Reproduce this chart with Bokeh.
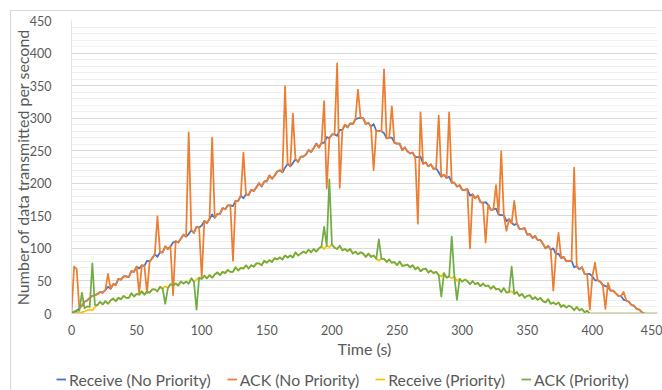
from bokeh.plotting import figure
from bokeh.models import Range1d, SingleIntervalTicker, Legend, LegendItem
from bokeh.layouts import column
from bokeh.embed import file_html
from bokeh.resources import INLINE

# ---- data ----
time_np = list(range(0, 441, 2))   # seconds, No Priority series
time_p = list(range(0, 451, 2))    # seconds, Priority series

receive_np = [
    1, 2, 4, 8, 12, 18, 20, 24, 27, 28,
    30, 33, 32, 36, 41, 38, 45, 44, 53, 52,
    57, 57, 56, 65, 64, 72, 69, 74, 73, 81,
    80, 85, 91, 87, 94, 94, 103, 99, 103, 109,
    111, 109, 115, 121, 118, 122, 128, 124, 133, 132,
    135, 142, 139, 145, 152, 147, 153, 153, 162, 160,
    166, 166, 165, 173, 173, 181, 177, 183, 182, 190,
    188, 194, 200, 195, 203, 203, 212, 207, 212, 218,
    220, 217, 224, 230, 226, 231, 237, 233, 241, 241,
    244, 251, 248, 254, 261, 255, 262, 262, 271, 269,
    275, 275, 273, 282, 282, 290, 286, 292, 291, 298,
    300, 300, 300, 291, 293, 287, 291, 281, 280, 280,
    277, 269, 270, 270, 262, 261, 261, 251, 255, 249,
    246, 247, 240, 240, 241, 230, 232, 226, 229, 222,
    223, 217, 210, 213, 208, 210, 201, 201, 195, 197,
    190, 190, 191, 181, 183, 177, 181, 171, 170, 171,
    167, 159, 160, 161, 152, 151, 151, 142, 145, 139,
    136, 138, 130, 130, 131, 121, 122, 116, 119, 113,
    113, 107, 100, 104, 98, 100, 91, 92, 85, 87,
    80, 81, 81, 71, 73, 68, 71, 61, 60, 61,
    57, 51, 51, 49, 44, 42, 41, 35, 35, 31,
    27, 27, 21, 20, 18, 13, 12, 7, 6, 2,
    0,
]

ack_np = [
    1, 72, 68, 8, 12, 18, 20, 24, 27, 28,
    30, 33, 32, 36, 61, 38, 45, 44, 53, 52,
    57, 57, 56, 65, 64, 72, 31, 74, 73, 31,
    80, 85, 91, 149, 94, 94, 103, 99, 103, 28,
    111, 109, 115, 121, 118, 278, 128, 124, 133, 132,
    55, 142, 139, 145, 270, 147, 153, 153, 162, 160,
    166, 166, 81, 173, 173, 181, 247, 183, 182, 190,
    188, 194, 200, 195, 203, 203, 212, 207, 212, 218,
    220, 217, 349, 230, 226, 307, 237, 233, 241, 241,
    244, 251, 248, 254, 261, 255, 262, 326, 192, 269,
    275, 275, 384, 193, 282, 290, 286, 292, 291, 298,
    344, 300, 300, 291, 293, 287, 220, 281, 280, 280,
    375, 269, 270, 318, 262, 261, 261, 251, 255, 249,
    246, 247, 240, 138, 309, 230, 232, 226, 229, 222,
    223, 304, 210, 213, 208, 309, 201, 201, 195, 197,
    190, 190, 191, 100, 183, 177, 181, 171, 170, 109,
    167, 159, 160, 197, 152, 249, 151, 127, 145, 139,
    173, 138, 130, 130, 131, 121, 122, 116, 119, 113,
    113, 107, 100, 104, 98, 35, 91, 124, 85, 87,
    80, 81, 81, 224, 73, 68, 71, 61, 60, 6,
    57, 78, 51, 49, 44, 7, 47, 35, 35, 31,
    27, 27, 33, 20, 18, 13, 12, 7, 6, 2,
    0,
]

receive_p = [
    0, 0, 1, 1, 2, 3, 5, 6, 5, 10,
    13, 18, 14, 19, 15, 20, 23, 19, 24, 22,
    27, 24, 24, 31, 26, 30, 29, 34, 29, 34,
    32, 37, 37, 34, 41, 38, 42, 39, 45, 43,
    46, 43, 49, 46, 49, 46, 54, 49, 52, 55,
    53, 58, 54, 59, 55, 60, 63, 59, 64, 62,
    67, 64, 64, 71, 66, 70, 69, 74, 69, 74,
    72, 77, 77, 74, 81, 78, 82, 79, 85, 83,
    86, 83, 89, 86, 89, 86, 94, 89, 92, 95,
    93, 98, 94, 99, 95, 100, 103, 99, 104, 102,
    106, 101, 99, 104, 97, 99, 96, 99, 92, 95,
    91, 94, 92, 87, 92, 87, 89, 84, 81, 84,
    84, 79, 83, 78, 79, 74, 80, 73, 74, 75,
    71, 74, 68, 71, 65, 68, 69, 63, 66, 62,
    64, 59, 57, 62, 55, 57, 54, 57, 50, 53,
    49, 52, 50, 45, 50, 45, 47, 42, 46, 42,
    43, 38, 42, 37, 38, 33, 39, 32, 33, 34,
    30, 33, 27, 30, 24, 27, 28, 22, 25, 21,
    24, 19, 17, 22, 15, 17, 14, 17, 10, 13,
    9, 12, 10, 5, 10, 5, 7, 2, 4, 0,
    0, 0, 0, 0, 0, 0, 0, 0, 0, 0,
    0, 0, 0, 0, 0, 0, 0, 0, 0, 0,
    0, 0, 0, 0, 0, 0,
]

ack_p = [
    1, 3, 5, 4, 32, 8, 11, 10, 77, 13,
    13, 18, 14, 19, 15, 20, 23, 19, 24, 22,
    27, 24, 24, 31, 26, 30, 29, 34, 29, 34,
    32, 37, 37, 34, 41, 38, 15, 39, 45, 43,
    46, 43, 49, 46, 49, 46, 54, 49, 6, 55,
    53, 58, 54, 59, 55, 60, 63, 59, 64, 62,
    67, 64, 64, 71, 66, 70, 69, 74, 69, 74,
    72, 77, 77, 74, 81, 78, 82, 79, 85, 83,
    86, 83, 89, 86, 89, 86, 94, 89, 92, 95,
    93, 98, 94, 99, 95, 100, 103, 133, 104, 206,
    106, 101, 99, 104, 97, 99, 96, 99, 92, 95,
    91, 94, 92, 87, 92, 87, 89, 84, 114, 84,
    84, 79, 83, 78, 79, 74, 80, 73, 74, 75,
    71, 74, 68, 71, 65, 68, 69, 63, 66, 62,
    64, 59, 26, 62, 55, 57, 118, 57, 21, 53,
    49, 52, 50, 45, 50, 45, 47, 42, 46, 42,
    43, 38, 42, 37, 38, 33, 39, 32, 33, 72,
    30, 33, 27, 30, 24, 27, 28, 22, 25, 21,
    24, 19, 17, 22, 15, 17, 14, 17, 10, 13,
    9, 12, 10, 5, 10, 5, 7, 2, 4, 0,
    0, 0, 0, 0, 0, 0, 0, 0, 0, 0,
    0, 0, 0, 0, 0, 0, 0, 0, 0, 0,
    0, 0, 0, 0, 0, 0,
]

series_names = ["Receive (No Priority)", "ACK (No Priority)",
                "Receive (Priority)", "ACK (Priority)"]
series_colors = ["#4472C4", "#ED7D31", "#FFC000", "#70AD47"]

x_title = "Time (s)"
y_title = "Number of data transmitted per second"

FONT = "Lato"
GREY = "#595959"
EDGE = "#d9d9d9"
VLINE0 = f"linear-gradient({EDGE},{EDGE}) 10px 0px / 1px 100% no-repeat"
VLINE10 = f"linear-gradient({EDGE},{EDGE}) 10px 10px / 1px 100% no-repeat"
HLINE = f"linear-gradient({EDGE},{EDGE}) 10px 10px / 100% 1px no-repeat"

xs = [time_np, time_np, time_p, time_p]
ys = [receive_np, ack_np, receive_p, ack_p]

# ---- main chart ----
p = figure(width=662, height=362, output_backend="svg", toolbar_location=None,
           x_range=Range1d(0, 450), y_range=Range1d(0, 450),
           min_border_left=71, min_border_right=5, min_border_top=20,
           min_border_bottom=49,
           styles={"background": f"{HLINE}, {VLINE10}, white"})
p.background_fill_color = "white"
p.border_fill_alpha = 0
p.outline_line_color = None

for x, y, c in zip(xs, ys, series_colors):
    p.line(x, y, line_color=c, line_width=1.75, line_join="round")

p.xaxis.ticker = SingleIntervalTicker(interval=50)
p.yaxis.ticker = SingleIntervalTicker(interval=50, num_minor_ticks=5)
p.xgrid.grid_line_color = None
p.ygrid.grid_line_color = "#d9d9d9"
p.ygrid.minor_grid_line_color = "#efefef"

for ax in (p.xaxis[0], p.yaxis[0]):
    ax.major_tick_line_color = None
    ax.minor_tick_line_color = None
    ax.major_label_text_font = FONT
    ax.major_label_text_font_size = "12.5px"
    ax.major_label_text_color = GREY
    ax.axis_label_text_font = FONT
    ax.axis_label_text_font_size = "16px"
    ax.axis_label_text_font_style = "normal"
    ax.axis_label_text_color = GREY

p.xaxis.axis_line_color = "#d0d0d0"
p.yaxis.axis_line_color = "#e2e2e2"
p.xaxis.axis_label = x_title
p.yaxis.axis_label = y_title
p.xaxis.major_label_standoff = 5
p.xaxis.axis_label_standoff = 1
p.yaxis.major_label_standoff = 14
p.yaxis.axis_label_standoff = -5

# ---- legend strip (below the chart) ----
# the strip's y range holds no data, so its lines only feed the legend glyphs
lg = figure(width=662, height=28, output_backend="svg", toolbar_location=None,
            x_range=Range1d(0, 450), y_range=Range1d(-20, -10),
            x_axis_location=None, y_axis_location=None,
            min_border_left=0, min_border_right=0, min_border_top=0,
            min_border_bottom=0, styles={"background": f"{VLINE0}, white"})
lg.grid.visible = False
lg.outline_line_color = None
lg.background_fill_alpha = 0
lg.border_fill_alpha = 0

legend_x = 56
if "frame_align" in lg.properties():
    lg.frame_align = False
    p.frame_align = False
else:
    legend_x = 56 - 71

proxies = [lg.line(x, y, line_color=c, line_width=1.75)
           for x, y, c in zip(xs, ys, series_colors)]
legend = Legend(items=[LegendItem(label=n, renderers=[r])
                       for n, r in zip(series_names, proxies)],
                orientation="horizontal", location=(legend_x, 0),
                glyph_width=10, glyph_height=22, label_height=22,
                label_standoff=3, spacing=16,
                padding=3, margin=0, border_line_color=None,
                background_fill_alpha=0,
                label_text_font=FONT, label_text_font_size="15.8px",
                label_text_color=GREY)
lg.add_layout(legend)

layout = column(p, lg, spacing=0)
open("out.html", "w").write(file_html(layout, INLINE))
